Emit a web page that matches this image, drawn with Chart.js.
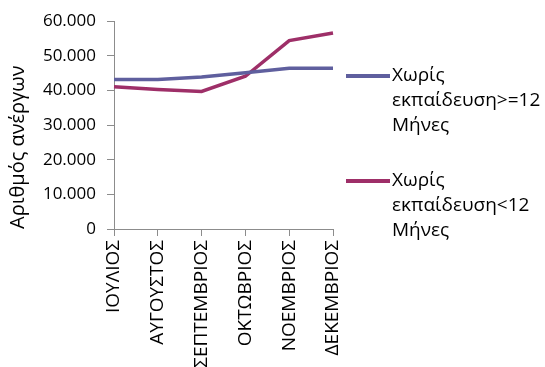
<!DOCTYPE html>
<html>
<head>
<meta charset="utf-8">
<script src="https://cdn.jsdelivr.net/npm/chart.js@4/dist/chart.umd.min.js"></script>
<style>
    html, body { margin: 0; padding: 0; background: #fff; }
    #wrap { position: relative; width: 545px; height: 367px; }
    #legend { position: absolute; left: 346px; top: 0; font-family: "Open Sans", sans-serif; font-size: 19px; color: #000; }
    .item { position: absolute; left: 0; width: 200px; line-height: 25px; }
    .swatch { position: absolute; left: 0; top: 12px; width: 44px; height: 4px; }
    .txt { position: absolute; left: 46px; top: 0; white-space: nowrap; }
</style>
</head>
<body>
<div id="wrap">
    <canvas id="graph" width="545" height="367"></canvas>
    <div id="legend"></div>
</div>
<script>
const months = ["ΙΟΥΛΙΟΣ", "ΑΥΓΟΥΣΤΟΣ", "ΣΕΠΤΕΜΒΡΙΟΣ", "ΟΚΤΩΒΡΙΟΣ", "ΝΟΕΜΒΡΙΟΣ", "ΔΕΚΕΜΒΡΙΟΣ"]
const over12 = [43200, 43200, 43900, 45100, 46400, 46400]
const under12 = [41100, 40300, 39700, 44100, 54400, 56600]
const seriesLabels = [
    ["Χωρίς", "εκπαίδευση>=12", "Μήνες"],
    ["Χωρίς", "εκπαίδευση<12", "Μήνες"],
]
const seriesColors = ["#5f5f9e", "#9e2f68"]
const yTitle = "Αριθμός ανέργων"

const fontFamily = "'Open Sans', sans-serif"
const axisColor = "#8c8c8c"

const formatThousands = (value) => {
    return value.toString().replace(/\B(?=(\d{3})+(?!\d))/g, ".")
}

const ctx = document.getElementById("graph")

const config = {
    type: "line",
    data: {
        labels: months,
        datasets: [over12, under12].map((values, i) => ({
            label: seriesLabels[i].join(" "),
            data: values,
            borderColor: seriesColors[i],
            backgroundColor: seriesColors[i],
            borderWidth: 3.5,
            pointRadius: 0,
            tension: 0,
        })),
    },
    options: {
        responsive: false,
        animation: false,
        layout: {
            padding: { top: 20, right: 212, left: 0, bottom: 0 },
        },
        plugins: {
            legend: { display: false },
            tooltip: { enabled: false },
        },
        scales: {
            x: {
                offset: false,
                border: { display: true, color: axisColor, width: 1 },
                grid: {
                    display: true,
                    drawOnChartArea: false,
                    drawTicks: true,
                    tickLength: 7,
                    color: axisColor,
                },
                ticks: {
                    color: "#000",
                    font: { family: fontFamily, size: 19 },
                    minRotation: 90,
                    maxRotation: 90,
                    autoSkip: false,
                    padding: 4,
                },
                afterFit: (scale) => {
                    scale.height = 138
                },
            },
            y: {
                min: 0,
                max: 60000,
                border: { display: true, color: axisColor, width: 1 },
                grid: {
                    display: true,
                    drawOnChartArea: false,
                    drawTicks: true,
                    tickLength: 7,
                    color: axisColor,
                },
                ticks: {
                    stepSize: 10000,
                    color: "#000",
                    font: { family: fontFamily, size: 17 },
                    padding: 11,
                    callback: (value) => formatThousands(value),
                },
                title: {
                    display: true,
                    text: yTitle,
                    align: "start",
                    color: "#000",
                    font: { family: fontFamily, size: 20 },
                    padding: { top: 6, bottom: 0 },
                },
                afterFit: (scale) => {
                    scale.width = 114
                },
            },
        },
    },
}

const chart = new Chart(ctx, config)

// legend as html, multi-line labels like in the source
const legend = document.getElementById("legend")
const legendTops = [62, 167]
seriesLabels.forEach((lines, i) => {
    const item = document.createElement("div")
    item.className = "item"
    item.style.top = legendTops[i] + "px"
    const sw = document.createElement("div")
    sw.className = "swatch"
    sw.style.background = seriesColors[i]
    const txt = document.createElement("div")
    txt.className = "txt"
    txt.innerHTML = lines.join("<br>")
    item.appendChild(sw)
    item.appendChild(txt)
    legend.appendChild(item)
})
</script>
</body>
</html>
